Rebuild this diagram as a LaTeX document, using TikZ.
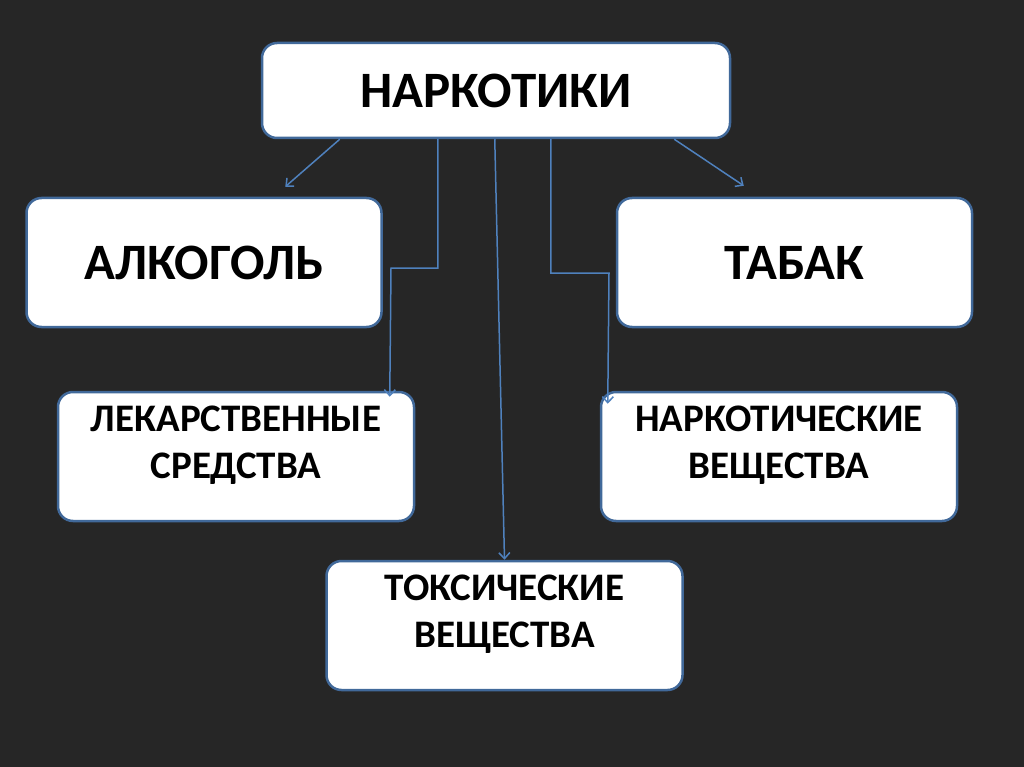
\documentclass[tikz,border=0pt]{standalone}
\usepackage{fontspec}
\setmainfont{Carlito}
\usetikzlibrary{arrows.meta}
\definecolor{bg}{HTML}{262626}
\definecolor{boxline}{HTML}{41699A}
\definecolor{conn}{HTML}{4F81BD}
\tikzset{
  box/.style={rectangle, rounded corners=15pt, draw=boxline, line width=2.5pt, fill=white,
    inner sep=0pt, align=center, text=black, font=\bfseries\fontsize{51}{60}\selectfont},
  smallbox/.style={box, minimum width=356pt, minimum height=129pt,
    font=\bfseries\fontsize{39}{47}\selectfont, text depth=28pt},
  bigbox/.style={box, minimum width=355pt, minimum height=129pt},
  conline/.style={draw=conn, line width=1.5pt, -{Straight Barb[length=6pt,width=11pt]}}
}
\begin{document}
\begin{tikzpicture}[x=1pt,y=-1pt]
\fill[bg] (0,0) rectangle (1024,767);
\useasboundingbox (0,0) rectangle (1024,767);
\node[box, minimum width=468pt, minimum height=95pt] (top) at (496,90.5) {НАРКОТИКИ};
\node[bigbox] (alc) at (204,262.5) {АЛКОГОЛЬ};
\node[bigbox] (tab) at (794.5,262.5) {ТАБАК};
\node[smallbox] (lek) at (236,456.5) {ЛЕКАРСТВЕННЫЕ\\СРЕДСТВА};
\node[smallbox] (nar) at (779,456.5) {НАРКОТИЧЕСКИЕ\\ВЕЩЕСТВА};
\node[smallbox] (tox) at (504.5,625.5) {ТОКСИЧЕСКИЕ\\ВЕЩЕСТВА};

\draw[conline] ([xshift=79pt]top.south west) -- ([xshift=260pt,yshift=10pt]alc.north west);
\draw[conline] ([xshift=-57pt]top.south east) -- ([xshift=128pt,yshift=11pt]tab.north west);
\draw[conline] ([xshift=177pt]top.south west) |- (391,268) -- ([xshift=333pt,yshift=-6pt]lek.north west);
\draw[conline] ([xshift=234pt]top.south west) -- (tox.north);
\draw[conline] ([xshift=290pt]top.south west) |- (609,273) -- ([xshift=8pt,yshift=-13pt]nar.north west);
\end{tikzpicture}
\end{document}
